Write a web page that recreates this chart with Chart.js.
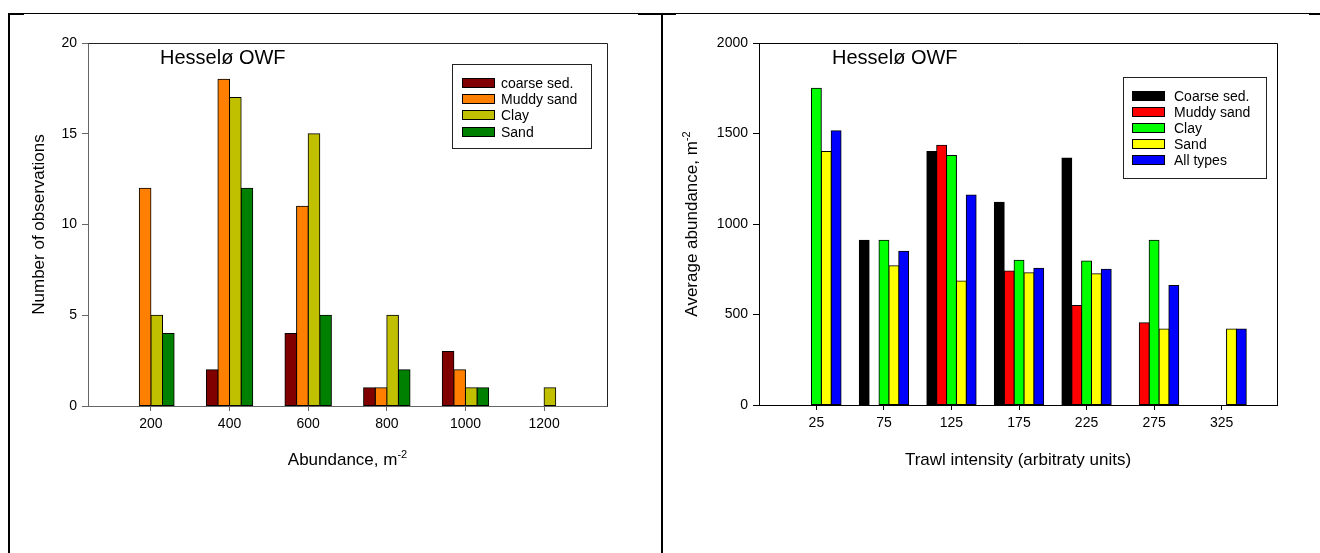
<!DOCTYPE html>
<html><head><meta charset="utf-8">
<script src="https://cdn.jsdelivr.net/npm/chart.js@4.4.1/dist/chart.umd.min.js"></script>
<style>
html,body{margin:0;padding:0;background:#fff;width:1320px;height:553px;overflow:hidden}
body{position:relative}
.ln{position:absolute;background:#000;z-index:5}
canvas{position:absolute;top:0}
</style></head><body>
<canvas id="c1" width="660" height="553" style="left:0px"></canvas>
<canvas id="c2" width="657" height="553" style="left:663px"></canvas>
<div class="ln" style="left:8px;top:13px;width:1312px;height:1px"></div>
<div class="ln" style="left:8px;top:13px;width:16px;height:2px"></div>
<div class="ln" style="left:638px;top:13px;width:38px;height:2px"></div>
<div class="ln" style="left:1309px;top:13px;width:11px;height:2px"></div>
<div class="ln" style="left:8px;top:13px;width:2px;height:540px"></div>
<div class="ln" style="left:661px;top:13px;width:2px;height:540px"></div>
<script>
// ---------- data: left chart ----------
const abundanceBins = [200, 400, 600, 800, 1000, 1200];
const coarseObs = [0, 2, 4, 1, 3, 0];
const muddyObs  = [12, 18, 11, 1, 2, 0];
const clayObs   = [5, 17, 15, 5, 1, 1];
const sandObs   = [4, 12, 5, 2, 1, 0];
const obsTicks  = [0, 5, 10, 15, 20];

// ---------- data: right chart ----------
const trawlIntensity = [25, 75, 125, 175, 225, 275, 325];
const coarseAbund = [null, 910, 1400, 1120, 1365, null, null];
const muddyAbund  = [null, null, 1435, 740, 550, 455, null];
const clayAbund   = [1750, 910, 1378, 800, 795, 910, null];
const sandAbund   = [1400, 770, 685, 730, 725, 420, 420];
const allAbund    = [1515, 850, 1160, 755, 750, 660, 420];
const abundTicks  = [0, 500, 1000, 1500, 2000];

const FAM = '"Liberation Sans", Arial, Helvetica, sans-serif';
Chart.defaults.font.family = FAM;
Chart.defaults.color = '#000';

function pts(xs, ys) { return xs.map((x, i) => ({ x: x, y: ys[i] })); }

function supText(ctx, main, sup, cx, cy, size, rotate) {
  const fMain = size + 'px ' + FAM, fSup = Math.round(size * 0.62) + 'px ' + FAM;
  ctx.font = fMain; const w1 = ctx.measureText(main).width;
  ctx.font = fSup; const w2 = ctx.measureText(sup).width;
  const tot = w1 + w2;
  ctx.save();
  ctx.translate(cx, cy);
  if (rotate) ctx.rotate(-Math.PI / 2);
  ctx.textAlign = 'left'; ctx.textBaseline = 'alphabetic'; ctx.fillStyle = '#000';
  ctx.font = fMain; ctx.fillText(main, -tot / 2, 0);
  if (sup) { ctx.font = fSup; ctx.fillText(sup, -tot / 2 + w1, -size * 0.42); }
  ctx.restore();
}

const decor = {
  id: 'decor',
  afterDraw(chart, args, o) {
    const ctx = chart.ctx, a = chart.chartArea;
    ctx.save();
    ctx.strokeStyle = o.frameColor; ctx.lineWidth = 1;
    ctx.beginPath();
    ctx.moveTo(Math.round(a.left) + 0.5, Math.round(a.top) + 0.5);
    ctx.lineTo(Math.round(a.right) + 0.5, Math.round(a.top) + 0.5);
    ctx.lineTo(Math.round(a.right) + 0.5, Math.round(a.bottom) + 0.5);
    ctx.stroke();
    ctx.fillStyle = '#000'; ctx.textAlign = 'left'; ctx.textBaseline = 'alphabetic';
    ctx.font = o.title.size + 'px ' + FAM;
    ctx.fillText(o.title.text, o.title.x, o.title.y);
    supText(ctx, o.xTitle.text, o.xTitle.sup, (a.left + a.right) / 2, o.xTitle.y, o.xTitle.size, false);
    supText(ctx, o.yTitle.text, o.yTitle.sup, o.yTitle.x, (a.top + a.bottom) / 2, o.yTitle.size, true);
    const L = o.legend;
    ctx.fillStyle = '#fff';
    ctx.fillRect(L.x, L.y, L.w, L.h);
    ctx.strokeStyle = L.border; ctx.lineWidth = 1;
    ctx.strokeRect(L.x + 0.5, L.y + 0.5, L.w, L.h);
    ctx.font = L.size + 'px ' + FAM; ctx.textBaseline = 'middle';
    chart.data.datasets.forEach((ds, i) => {
      const cy = L.row0 + i * L.step;
      ctx.fillStyle = ds.backgroundColor;
      ctx.fillRect(L.swX, Math.round(cy - L.swH / 2), L.swW, L.swH);
      ctx.strokeStyle = '#000';
      ctx.strokeRect(L.swX + 0.5, Math.round(cy - L.swH / 2) + 0.5, L.swW - 1, L.swH - 1);
      ctx.fillStyle = '#000';
      ctx.fillText(ds.label, L.txtX, cy + 1);
    });
    ctx.restore();
  }
};

function barDs(label, color, xs, ys, cp) {
  return { label: label, data: pts(xs, ys), backgroundColor: color, borderColor: '#000',
           borderWidth: 1, borderSkipped: false, inflateAmount: 0.5,
           categoryPercentage: cp, barPercentage: 1 };
}

function makeScales(o) {
  return {
    x: {
      type: 'linear', min: o.xmin, max: o.xmax, offset: false,
      afterBuildTicks: s => { s.ticks = o.xticks.map(v => ({ value: v })); },
      afterFit: s => { s.height = 30; },
      grid: { offset: false, drawOnChartArea: false, drawTicks: true, tickLength: 5, color: o.axisCol },
      border: { display: true, color: o.axisCol, width: 1 },
      ticks: { color: '#000', font: { size: 14 }, padding: 5, maxRotation: 0, autoSkip: false,
               callback: v => String(v) }
    },
    y: {
      type: 'linear', min: o.ymin, max: o.ymax,
      afterBuildTicks: s => { s.ticks = o.yticks.map(v => ({ value: v })); },
      afterFit: s => { s.width = o.yw; },
      grid: { drawOnChartArea: false, drawTicks: true, tickLength: 6, color: o.axisCol },
      border: { display: true, color: o.axisCol, width: 1 },
      ticks: { color: '#000', font: { size: 14 }, padding: 5, callback: v => String(v) }
    }
  };
}

// ---------- left chart ----------
new Chart(document.getElementById('c1'), {
  type: 'bar',
  data: { datasets: [
    barDs('coarse sed.', '#800000', abundanceBins, coarseObs, 0.59),
    barDs('Muddy sand', '#FF8000', abundanceBins, muddyObs, 0.59),
    barDs('Clay', '#C0C000', abundanceBins, clayObs, 0.59),
    barDs('Sand', '#008000', abundanceBins, sandObs, 0.59)
  ]},
  options: {
    responsive: false, animation: false, devicePixelRatio: 1,
    layout: { padding: { left: 48, right: 53, top: 43, bottom: 117 } },
    scales: makeScales({ xmin: 40, xmax: 1360, xticks: abundanceBins, ymin: 0, ymax: 20,
                         yticks: obsTicks, yw: 40, axisCol: '#666' }),
    plugins: {
      legend: { display: false }, tooltip: { enabled: false },
      decor: {
        frameColor: '#222',
        title: { text: 'Hesselø OWF', x: 160, y: 64, size: 20 },
        xTitle: { text: 'Abundance, m', sup: '-2', y: 465, size: 17 },
        yTitle: { text: 'Number of observations', sup: '', x: 44, size: 17 },
        legend: { x: 452, y: 64, w: 139, h: 84, border: '#222', row0: 82.8, step: 16.3,
                  swX: 462, swW: 33, swH: 10, txtX: 501, size: 14 }
      }
    }
  },
  plugins: [decor]
});

// ---------- right chart ----------
new Chart(document.getElementById('c2'), {
  type: 'bar',
  data: { datasets: [
    barDs('Coarse sed.', '#000000', trawlIntensity, coarseAbund, 0.73),
    barDs('Muddy sand', '#FF0000', trawlIntensity, muddyAbund, 0.73),
    barDs('Clay', '#00FF00', trawlIntensity, clayAbund, 0.73),
    barDs('Sand', '#FFFF00', trawlIntensity, sandAbund, 0.73),
    barDs('All types', '#0000FF', trawlIntensity, allAbund, 0.73)
  ]},
  options: {
    responsive: false, animation: false, devicePixelRatio: 1,
    layout: { padding: { left: 46, right: 43, top: 43, bottom: 118 } },
    scales: makeScales({ xmin: -17.5, xmax: 366, xticks: trawlIntensity, ymin: 0, ymax: 2000,
                         yticks: abundTicks, yw: 50, axisCol: '#000' }),
    plugins: {
      legend: { display: false }, tooltip: { enabled: false },
      decor: {
        frameColor: '#000',
        title: { text: 'Hesselø OWF', x: 169, y: 64, size: 20 },
        xTitle: { text: 'Trawl intensity (arbitraty units)', sup: '', y: 465, size: 17 },
        yTitle: { text: 'Average abundance, m', sup: '-2', x: 34, size: 17 },
        legend: { x: 460, y: 77, w: 143, h: 101, border: '#222', row0: 95.7, step: 16,
                  swX: 469, swW: 33, swH: 10, txtX: 511, size: 14 }
      }
    }
  },
  plugins: [decor]
});
</script>
</body></html>
